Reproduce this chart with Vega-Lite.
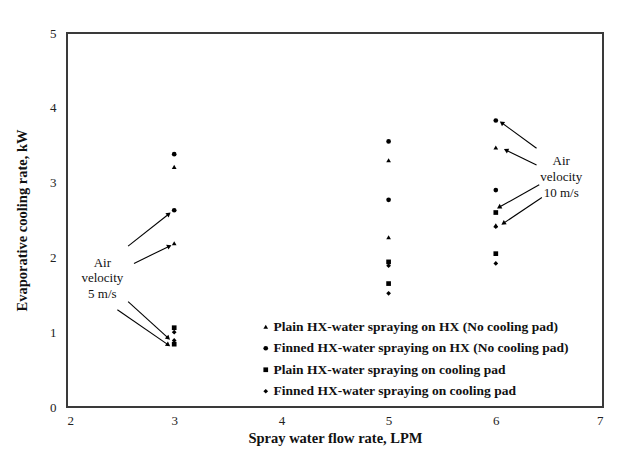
{
  "$schema": "https://vega.github.io/schema/vega-lite/v6.json",
  "width": 536,
  "height": 374,
  "autosize": {"type": "none"},
  "padding": {"left": 67, "top": 33, "right": 15, "bottom": 44},
  "background": "white",
  "config": {
    "font": "Liberation Serif",
    "view": {"stroke": "#3a3a3a", "strokeWidth": 2},
    "axis": {"grid": false, "domain": false, "ticks": false, "format": "d", "labelFont": "Liberation Serif", "labelFontSize": 13, "labelColor": "#222", "titleFont": "Liberation Serif", "titleFontSize": 14.5, "titleFontWeight": "bold", "titleColor": "#111"}
  },
  "datasets": {
    "main": [
      {"flow": 3, "rate": 3.21, "series": "Plain HX-water spraying on HX (No cooling pad)", "velocity": 10},
      {"flow": 3, "rate": 2.19, "series": "Plain HX-water spraying on HX (No cooling pad)", "velocity": 5},
      {"flow": 3, "rate": 3.38, "series": "Finned HX-water spraying on HX (No cooling pad)", "velocity": 10},
      {"flow": 3, "rate": 2.63, "series": "Finned HX-water spraying on HX (No cooling pad)", "velocity": 5},
      {"flow": 3, "rate": 1.06, "series": "Plain HX-water spraying on cooling pad", "velocity": 10},
      {"flow": 3, "rate": 0.84, "series": "Plain HX-water spraying on cooling pad", "velocity": 5},
      {"flow": 3, "rate": 1.0, "series": "Finned HX-water spraying on cooling pad", "velocity": 10},
      {"flow": 3, "rate": 0.89, "series": "Finned HX-water spraying on cooling pad", "velocity": 5},
      {"flow": 5, "rate": 3.3, "series": "Plain HX-water spraying on HX (No cooling pad)", "velocity": 10},
      {"flow": 5, "rate": 2.27, "series": "Plain HX-water spraying on HX (No cooling pad)", "velocity": 5},
      {"flow": 5, "rate": 3.55, "series": "Finned HX-water spraying on HX (No cooling pad)", "velocity": 10},
      {"flow": 5, "rate": 2.77, "series": "Finned HX-water spraying on HX (No cooling pad)", "velocity": 5},
      {"flow": 5, "rate": 1.94, "series": "Plain HX-water spraying on cooling pad", "velocity": 10},
      {"flow": 5, "rate": 1.65, "series": "Plain HX-water spraying on cooling pad", "velocity": 5},
      {"flow": 5, "rate": 1.89, "series": "Finned HX-water spraying on cooling pad", "velocity": 10},
      {"flow": 5, "rate": 1.52, "series": "Finned HX-water spraying on cooling pad", "velocity": 5},
      {"flow": 6, "rate": 3.47, "series": "Plain HX-water spraying on HX (No cooling pad)", "velocity": 10},
      {"flow": 6, "rate": 2.43, "series": "Plain HX-water spraying on HX (No cooling pad)", "velocity": 5},
      {"flow": 6, "rate": 3.83, "series": "Finned HX-water spraying on HX (No cooling pad)", "velocity": 10},
      {"flow": 6, "rate": 2.9, "series": "Finned HX-water spraying on HX (No cooling pad)", "velocity": 5},
      {"flow": 6, "rate": 2.6, "series": "Plain HX-water spraying on cooling pad", "velocity": 10},
      {"flow": 6, "rate": 2.05, "series": "Plain HX-water spraying on cooling pad", "velocity": 5},
      {"flow": 6, "rate": 2.41, "series": "Finned HX-water spraying on cooling pad", "velocity": 10},
      {"flow": 6, "rate": 1.92, "series": "Finned HX-water spraying on cooling pad", "velocity": 5}
    ],
    "arrows": [
      {"x": 2.57, "y": 2.15, "x2": 2.95, "y2": 2.58},
      {"x": 2.625, "y": 1.92, "x2": 2.955, "y2": 2.15},
      {"x": 2.57, "y": 1.41, "x2": 2.945, "y2": 0.92},
      {"x": 2.47, "y": 1.3, "x2": 2.945, "y2": 0.83},
      {"x": 6.38, "y": 3.46, "x2": 6.055, "y2": 3.8},
      {"x": 6.38, "y": 3.235, "x2": 6.095, "y2": 3.435},
      {"x": 6.405, "y": 2.97, "x2": 6.03, "y2": 2.67},
      {"x": 6.43, "y": 2.8, "x2": 6.07, "y2": 2.455}
    ],
    "notes": [
      {"x": 2.33, "y": 1.925, "text": "Air"},
      {"x": 2.33, "y": 1.72, "text": "velocity"},
      {"x": 2.33, "y": 1.51, "text": "5 m/s"},
      {"x": 6.61, "y": 3.29, "text": "Air"},
      {"x": 6.61, "y": 3.075, "text": "velocity"},
      {"x": 6.61, "y": 2.86, "text": "10 m/s"}
    ]
  },
  "layer": [
    {
      "data": {"name": "main"},
      "mark": {"type": "point", "filled": true, "color": "black", "opacity": 1, "size": 22},
      "encoding": {
        "x": {"field": "flow", "type": "quantitative", "scale": {"domain": [2, 7], "nice": false}, "axis": {"values": [2, 3, 4, 5, 6, 7], "labelPadding": 7, "titlePadding": 4}, "title": "Spray water flow rate, LPM"},
        "y": {"field": "rate", "type": "quantitative", "scale": {"domain": [0, 5], "nice": false}, "axis": {"values": [0, 1, 2, 3, 4, 5], "labelPadding": 11, "titlePadding": 20}, "title": "Evaporative cooling rate, kW"},
        "shape": {
          "field": "series",
          "type": "nominal",
          "scale": {
            "domain": ["Plain HX-water spraying on HX (No cooling pad)", "Finned HX-water spraying on HX (No cooling pad)", "Plain HX-water spraying on cooling pad", "Finned HX-water spraying on cooling pad"],
            "range": ["triangle-up", "circle", "square", "diamond"]
          },
          "legend": {
            "title": null,
            "orient": "none",
            "legendX": 192,
            "legendY": 287,
            "labelFont": "Liberation Serif",
            "labelFontSize": 13.5,
            "labelFontWeight": "bold",
            "labelColor": "#111",
            "labelLimit": 0,
            "labelOffset": 1,
            "symbolSize": 22,
            "symbolFillColor": "black",
            "symbolStrokeColor": "black",
            "rowPadding": 6.5
          }
        }
      }
    },
    {
      "data": {"name": "arrows"},
      "mark": {"type": "rule", "color": "black", "strokeWidth": 1.1},
      "encoding": {
        "x": {"field": "x", "type": "quantitative"},
        "y": {"field": "y", "type": "quantitative"},
        "x2": {"field": "x2"},
        "y2": {"field": "y2"}
      }
    },
    {
      "data": {"name": "arrows"},
      "transform": [
        {"calculate": "atan2((datum.x2 - datum.x) * 107.2, (datum.y2 - datum.y) * 74.8) * 180 / PI", "as": "heading"}
      ],
      "mark": {"type": "point", "shape": "triangle-up", "filled": true, "color": "black", "opacity": 1, "size": 28},
      "encoding": {
        "x": {"field": "x2", "type": "quantitative"},
        "y": {"field": "y2", "type": "quantitative"},
        "angle": {"field": "heading", "type": "quantitative", "scale": null}
      }
    },
    {
      "data": {"name": "notes"},
      "mark": {"type": "text", "font": "Liberation Serif", "fontSize": 13, "color": "#111", "align": "center", "baseline": "middle"},
      "encoding": {
        "x": {"field": "x", "type": "quantitative"},
        "y": {"field": "y", "type": "quantitative"},
        "text": {"field": "text"}
      }
    }
  ]
}
